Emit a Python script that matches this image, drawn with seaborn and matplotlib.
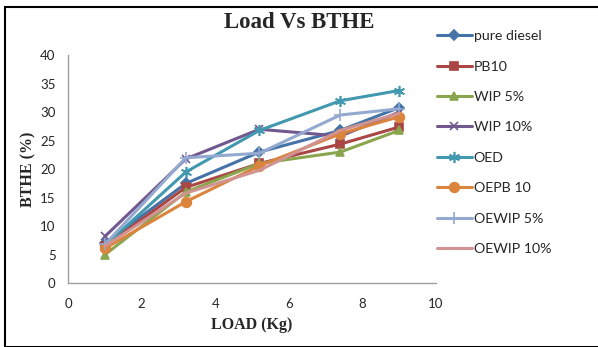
import matplotlib
matplotlib.use("Agg")
import matplotlib.pyplot as plt
import seaborn as sns
import pandas as pd
from matplotlib.patches import Rectangle

load = [1, 3.2, 5.2, 7.4, 9]
pure_diesel = [7.0, 17.5, 23.0, 26.8, 30.8]
pb10 = [6.5, 16.8, 21.0, 24.4, 27.4]
wip5 = [5.0, 16.0, 21.0, 23.0, 26.8]
wip10 = [8.2, 21.8, 27.0, 25.8, 30.0]
oed = [6.6, 19.5, 26.8, 32.0, 33.8]
oepb10 = [6.1, 14.3, 20.6, 26.2, 29.2]
oewip5 = [6.8, 22.0, 22.8, 29.5, 30.6]
oewip10 = [6.5, 15.8, 19.8, 26.8, 29.8]

names = ["pure diesel", "PB10", "WIP 5%", "WIP 10%", "OED", "OEPB 10", "OEWIP 5%", "OEWIP 10%"]
series = [pure_diesel, pb10, wip5, wip10, oed, oepb10, oewip5, oewip10]
colors = ["#4572A7", "#AA4643", "#89A54E", "#71588F", "#4198AF", "#DB843D", "#93A9CF", "#D19392"]
markers = ["D", "s", "^", "x", (6, 2, 0), "o", "+", None]
msizes = [5, 6, 6, 6, 8, 7, 8, 0]

sns.set_style("white")
plt.rcParams['font.family'] = ['Lato', 'DejaVu Sans']

fig = plt.figure(figsize=(5.98, 3.47), dpi=100)
ax = fig.add_axes([0.114, 0.184, 0.615, 0.657])

for name, vals, c, m, ms in zip(names, series, colors, markers, msizes):
    df = pd.DataFrame({"load": load, "bthe": vals})
    sns.lineplot(data=df, x="load", y="bthe", ax=ax, color=c, linewidth=2.2,
                 marker=m, markersize=ms,
                 markeredgecolor=c, markeredgewidth=1.2, label=name)

ax.set_xlim(0, 10)
ax.set_ylim(0, 40)
ax.set_xticks([0, 2, 4, 6, 8, 10])
ax.set_yticks(range(0, 45, 5))
ax.tick_params(axis='both', labelsize=9.5, length=0)
ax.tick_params(axis='x', pad=11)
ax.tick_params(axis='y', pad=9)
for s in ["top", "right"]:
    ax.spines[s].set_visible(False)
for s in ["left", "bottom"]:
    ax.spines[s].set_color("#A0A0A0")
    ax.spines[s].set_linewidth(1.0)

ax.set_xlabel("LOAD (Kg)", fontfamily="Liberation Serif", fontweight="bold", fontsize=11.5, labelpad=5)
ax.set_ylabel("BTHE (%)", fontfamily="Liberation Serif", fontweight="bold", fontsize=11.5, labelpad=3)
fig.text(0.50, 0.935, "Load Vs BTHE", ha="center", va="center", fontfamily="Liberation Serif",
         fontweight="bold", fontsize=16.5)

h, l = ax.get_legend_handles_labels()
ax.get_legend().remove()
fig.legend(h, l, loc="upper left", bbox_to_anchor=(0.709, 0.95), frameon=False,
           fontsize=10.2, labelspacing=1.30, handlelength=2.5, handletextpad=0.12)

fig.patches.append(Rectangle((0.008, 0.0), 1.0, 0.98, transform=fig.transFigure,
                             fill=False, edgecolor="black", linewidth=1.5))

fig.savefig("out.png", dpi=100)
